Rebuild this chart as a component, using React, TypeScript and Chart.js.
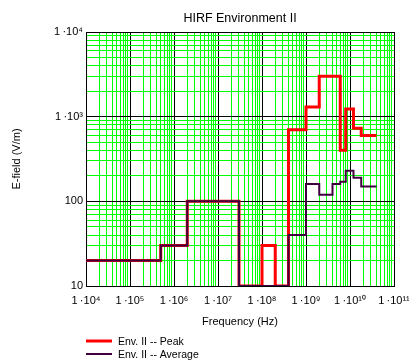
import React, { useEffect, useRef } from 'react';
import { Chart, registerables } from 'chart.js';

Chart.register(...registerables);

const FONT = '"Liberation Sans", Arial, Helvetica, sans-serif';

const chartTitle = 'HIRF Environment II';
const xAxisTitle = 'Frequency (Hz)';
const yAxisTitle = 'E-field (V/m)';

const peakLabel = 'Env. II -- Peak';
const averageLabel = 'Env. II -- Average';

// Step edges: each value holds from its frequency to the next one (last point closes the step)
const peakFreqHz = [1e4, 5e5, 2e6, 3e7, 1e8, 2e8, 4e8, 1e9, 2e9, 6e9, 8e9, 1.2e10, 1.8e10, 4e10];
const peakVm = [20, 30, 100, 10, 30, 10, 700, 1300, 3000, 400, 1230, 730, 600, 600];

const averageFreqHz = [1e4, 5e5, 2e6, 3e7, 4e8, 1e9, 2e9, 4e9, 6e9, 8e9, 1.2e10, 1.8e10, 4e10];
const averageVm = [20, 30, 100, 10, 40, 160, 120, 160, 170, 230, 190, 150, 150];

const xDecades = [1e4, 1e5, 1e6, 1e7, 1e8, 1e9, 1e10, 1e11];
const xTickLabels = ['1\u2009·10⁴', '1\u2009·10⁵', '1\u2009·10⁶', '1\u2009·10⁷', '1\u2009·10⁸', '1\u2009·10⁹', '1\u2009·10¹⁰', '1\u2009·10¹¹'];
const yDecades = [10, 100, 1000, 10000];
const yTickLabels = ['10', '100', '1\u2009·10³', '1\u2009·10⁴'];
const gridMultipliers = [1, 2, 3, 4, 5, 6, 7, 8, 9];

const peakColor = '#ff0000';
const averageColor = '#400040';

function decadeIndex(decades: number[], v: number) {
  return decades.findIndex((d) => Math.abs(d - v) / d < 1e-9);
}

function logGridTicks(decades: number[]) {
  const t: { value: number }[] = [];
  for (let i = 0; i < decades.length - 1; i++) {
    for (const m of gridMultipliers) t.push({ value: m * decades[i] });
  }
  t.push({ value: decades[decades.length - 1] });
  return t;
}

const stackedLegend = {
  id: 'stackedLegend',
  afterDraw(chart: any) {
    const { ctx, chartArea } = chart;
    const left = chartArea.left;
    const rows = [chartArea.bottom + 55, chartArea.bottom + 68];
    ctx.save();
    chart.data.datasets.forEach((ds: any, i: number) => {
      const y = rows[i];
      ctx.strokeStyle = ds.borderColor;
      ctx.lineWidth = ds.borderWidth;
      ctx.beginPath();
      ctx.moveTo(left, y);
      ctx.lineTo(left + 26, y);
      ctx.stroke();
      ctx.fillStyle = '#000';
      ctx.font = `10.5px ${FONT}`;
      ctx.textAlign = 'left';
      ctx.textBaseline = 'middle';
      ctx.fillText(ds.label, left + 32, y + 1);
    });
    ctx.restore();
  },
};

export default function App() {
  const ref = useRef<HTMLCanvasElement>(null);

  useEffect(() => {
    const canvas = ref.current!;
    const gridColor = (decades: number[]) => (c: any) =>
      c.tick && decadeIndex(decades, c.tick.value) >= 0 ? '#000000' : '#00ff00';

    const chart = new Chart(canvas, {
      type: 'line',
      data: {
        datasets: [
          {
            label: peakLabel,
            data: peakFreqHz.map((x, i) => ({ x, y: peakVm[i] })),
            borderColor: peakColor,
            backgroundColor: peakColor,
            borderWidth: 3,
            stepped: true,
            pointRadius: 0,
            fill: false,
            order: 1,
          },
          {
            label: averageLabel,
            data: averageFreqHz.map((x, i) => ({ x, y: averageVm[i] })),
            borderColor: averageColor,
            backgroundColor: averageColor,
            borderWidth: 2,
            stepped: true,
            pointRadius: 0,
            fill: false,
            order: 0,
          },
        ],
      },
      options: {
        responsive: false,
        animation: false,
        devicePixelRatio: 1,
        layout: { padding: { left: 0, right: 15, top: 0, bottom: 0 } },
        font: { family: FONT },
        color: '#000',
        plugins: {
          legend: { display: false },
          tooltip: { enabled: false },
          title: {
            display: true,
            fullSize: false,
            text: chartTitle,
            color: '#000',
            font: { family: FONT, size: 12.5, weight: 'normal' },
            padding: { top: 11, bottom: 6 },
          },
        },
        scales: {
          x: {
            type: 'logarithmic',
            position: 'bottom',
            min: 1e4,
            max: 1e11,
            afterBuildTicks: (s: any) => {
              s.ticks = logGridTicks(xDecades);
            },
            afterFit: (s: any) => {
              s.height = 76;
              s.paddingLeft = 0;
              s.paddingRight = 0;
            },
            grid: { color: gridColor(xDecades), lineWidth: 1, drawTicks: false },
            border: { display: true, color: '#000', width: 1 },
            ticks: {
              autoSkip: false,
              maxRotation: 0,
              minRotation: 0,
              padding: 8,
              color: '#000',
              font: { family: FONT, size: 11 },
              callback: (v: any) => {
                const i = decadeIndex(xDecades, Number(v));
                return i >= 0 ? xTickLabels[i] : '';
              },
            },
            title: {
              display: true,
              text: xAxisTitle,
              color: '#000',
              font: { family: FONT, size: 11 },
              padding: { top: 0, bottom: 33 },
            },
          },
          y: {
            type: 'logarithmic',
            position: 'left',
            min: 10,
            max: 1e4,
            afterBuildTicks: (s: any) => {
              s.ticks = logGridTicks(yDecades);
            },
            afterFit: (s: any) => {
              s.width = 86;
              s.paddingTop = 0;
              s.paddingBottom = 0;
            },
            grid: { color: gridColor(yDecades), lineWidth: 1, drawTicks: false },
            border: { display: true, color: '#000', width: 1 },
            ticks: {
              autoSkip: false,
              padding: 3,
              color: '#000',
              font: { family: FONT, size: 11 },
              callback: (v: any) => {
                const i = decadeIndex(yDecades, Number(v));
                return i >= 0 ? yTickLabels[i] : '';
              },
            },
            title: {
              display: true,
              text: yAxisTitle,
              color: '#000',
              font: { family: FONT, size: 11 },
              padding: { top: 10, bottom: 0 },
            },
          },
        },
      } as any,
      plugins: [stackedLegend],
    });

    return () => chart.destroy();
  }, []);

  return (
    <div style={{ position: 'fixed', left: 0, top: 0, width: 409, height: 362, background: '#fff' }}>
      <canvas ref={ref} width={409} height={362} style={{ display: 'block', width: 409, height: 362 }} />
    </div>
  );
}
